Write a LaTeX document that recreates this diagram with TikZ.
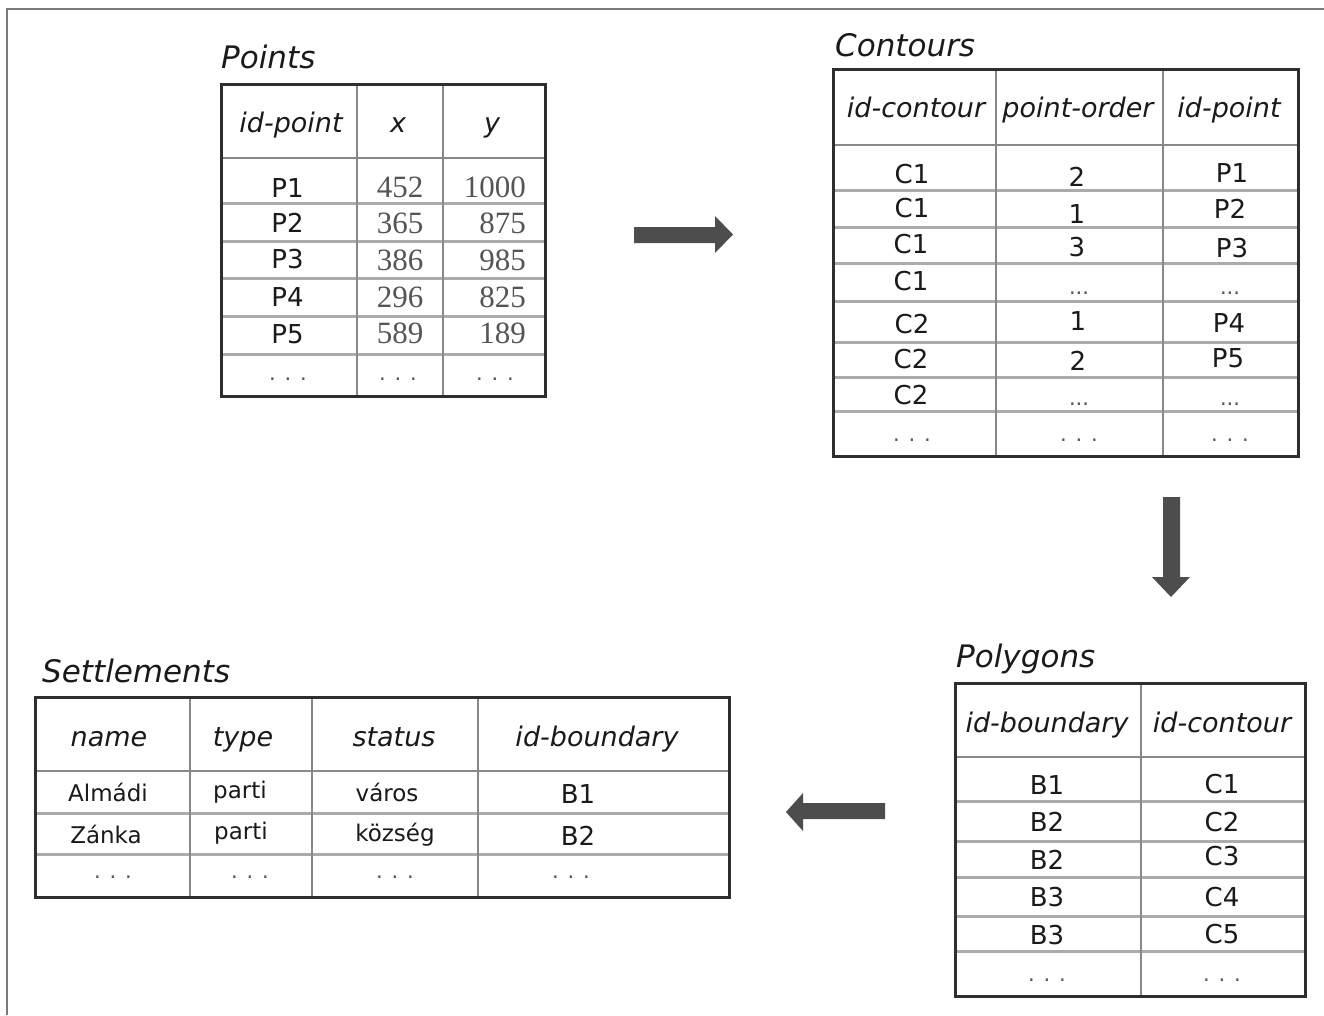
\documentclass[tikz,border=0pt]{standalone}
\usepackage{fontspec}
\newfontfamily\dvs{DejaVu Sans}
\newfontfamily\tms{Liberation Serif}
\definecolor{framecol}{HTML}{2E2E2E}
\definecolor{rowcol}{HTML}{ABABAB}
\definecolor{colcol}{HTML}{888888}
\definecolor{txt}{HTML}{1A1A1A}
\definecolor{numcol}{HTML}{555555}
\definecolor{arrcol}{HTML}{4D4D4D}
\definecolor{outercol}{HTML}{7A7A7A}
\tikzset{
  tabframe/.style={draw=framecol, line width=3pt},
  rowline/.style={draw=rowcol, line width=3pt},
  colline/.style={draw=colcol, line width=2pt},
  hdrline/.style={draw=colcol, line width=2.2pt},
  ttl/.style={anchor=base west, inner sep=0pt, font=\dvs\itshape\fontsize{31}{31}\selectfont, text=txt},
  hdr/.style={anchor=base, inner sep=0pt, font=\dvs\itshape\fontsize{27}{27}\selectfont, text=txt},
  cell/.style={anchor=base, inner sep=0pt, font=\dvs\fontsize{26}{26}\selectfont, text=txt},
  scell/.style={anchor=base, inner sep=0pt, font=\dvs\fontsize{23}{24}\selectfont, text=txt},
  num/.style={anchor=base, inner sep=0pt, font=\tms\fontsize{31}{31}\selectfont, text=numcol},
  numr/.style={anchor=base east, inner sep=0pt, font=\tms\fontsize{31}{31}\selectfont, text=numcol},
  dotsc/.style={anchor=center, inner sep=0pt, font=\dvs\fontsize{21}{21}\selectfont, text=txt!75},
  tdots/.style={anchor=base, inner sep=0pt, font=\dvs\fontsize{21}{21}\selectfont, text=txt!75},
  bigarrow/.style={fill=arrcol},
  outer/.style={draw=outercol, line width=2pt}
}
\begin{document}
\begin{tikzpicture}[x=1pt, y=-1pt]
\useasboundingbox (0,0) rectangle (1324,1015);
\fill[white] (0,0) rectangle (1324,1015);
% outer frame (top and left only)
\draw[outer] (1324,9) -- (7,9) -- (7,1015);

% ================= Points =================
\node[ttl] (tP) at (221,68) {Points};
\foreach \y in {203,241,278,316,354} \draw[rowline] (221,\y) -- (545,\y);
\draw[hdrline] (221,158) -- (545,158);
\foreach \x in {357,443} \draw[colline] (\x,84) -- (\x,396);
\draw[tabframe] (221,84) rectangle (545,396);
\node[hdr] (pH1) at (291,132) {id-point};
\node[hdr] (pH2) at (398,132) {x};
\node[hdr] (pH3) at (492,132) {y};
\node[cell] (pA1) at (287.5,197) {P1};
\node[cell] (pA2) at (287.5,232) {P2};
\node[cell] (pA3) at (287.5,268) {P3};
\node[cell] (pA4) at (287.5,306) {P4};
\node[cell] (pA5) at (287.5,343) {P5};
\node[num] (pB1) at (400,197) {452};
\node[num] (pB2) at (400,233) {365};
\node[num] (pB3) at (400,270) {386};
\node[num] (pB4) at (400,307) {296};
\node[num] (pB5) at (400,343) {589};
\node[numr] (pC1) at (526,197) {1000};
\node[numr] (pC2) at (526,233) {875};
\node[numr] (pC3) at (526,270) {985};
\node[numr] (pC4) at (526,307) {825};
\node[numr] (pC5) at (526,343) {189};
\node[dotsc] (pD1) at (288,379) {. . .};
\node[dotsc] (pD2) at (398,379) {. . .};
\node[dotsc] (pD3) at (495,379) {. . .};

% ================= Contours =================
\node[ttl] (tC) at (835,56) {Contours};
\foreach \y in {190,227,263,301,342,377,411} \draw[rowline] (833,\y) -- (1298,\y);
\draw[hdrline] (833,145) -- (1298,145);
\foreach \x in {996,1163} \draw[colline] (\x,69) -- (\x,456);
\draw[tabframe] (833,69) rectangle (1298,456);
\node[hdr] (cH1) at (916,117) {id-contour};
\node[hdr] (cH2) at (1078,117) {point-order};
\node[hdr] (cH3) at (1229,117) {id-point};
\node[cell] (cA1) at (912,183) {C1};
\node[cell] (cA2) at (912,217) {C1};
\node[cell] (cA3) at (911,253) {C1};
\node[cell] (cA4) at (911,290) {C1};
\node[cell] (cA5) at (912,333) {C2};
\node[cell] (cA6) at (911,368) {C2};
\node[cell] (cA7) at (911,404) {C2};
\node[cell] (cB1) at (1077,186) {2};
\node[cell] (cB2) at (1077,223) {1};
\node[cell] (cB3) at (1077,256) {3};
\node[tdots] (cB4) at (1079,294) {...};
\node[cell] (cB5) at (1078,330) {1};
\node[cell] (cB6) at (1078,370) {2};
\node[tdots] (cB7) at (1079,405) {...};
\node[cell] (cC1) at (1232,182) {P1};
\node[cell] (cC2) at (1230,218) {P2};
\node[cell] (cC3) at (1232,257) {P3};
\node[tdots] (cC4) at (1230,294) {...};
\node[cell] (cC5) at (1229,332) {P4};
\node[cell] (cC6) at (1228,367) {P5};
\node[tdots] (cC7) at (1230,405) {...};
\node[dotsc] (cD1) at (912,440) {. . .};
\node[dotsc] (cD2) at (1079,440) {. . .};
\node[dotsc] (cD3) at (1230,440) {. . .};

% ================= Polygons =================
\node[ttl] (tPo) at (956,667) {Polygons};
\foreach \y in {801,841,877,916,951} \draw[rowline] (955,\y) -- (1305,\y);
\draw[hdrline] (955,757) -- (1305,757);
\draw[colline] (1141,683) -- (1141,996);
\draw[tabframe] (955,683) rectangle (1305,996);
\node[hdr] (gH1) at (1047,732) {id-boundary};
\node[hdr] (gH2) at (1222,732) {id-contour};
\node[cell] (gA1) at (1047,794) {B1};
\node[cell] (gA2) at (1047,831) {B2};
\node[cell] (gA3) at (1047,869) {B2};
\node[cell] (gA4) at (1047,906) {B3};
\node[cell] (gA5) at (1047,944) {B3};
\node[cell] (gB1) at (1222,793) {C1};
\node[cell] (gB2) at (1222,831) {C2};
\node[cell] (gB3) at (1222,865) {C3};
\node[cell] (gB4) at (1222,906) {C4};
\node[cell] (gB5) at (1222,943) {C5};
\node[dotsc] (gD1) at (1047,980) {. . .};
\node[dotsc] (gD2) at (1222,980) {. . .};

% ================= Settlements =================
\node[ttl] (tS) at (42,682) {Settlements};
\foreach \y in {813,854} \draw[rowline] (35,\y) -- (729,\y);
\draw[hdrline] (35,771) -- (729,771);
\foreach \x in {190,312,478} \draw[colline] (\x,697) -- (\x,897);
\draw[tabframe] (35,697) rectangle (729,897);
\node[hdr] (sH1) at (109,746) {name};
\node[hdr] (sH2) at (243,746) {type};
\node[hdr] (sH3) at (394,746) {status};
\node[hdr] (sH4) at (597,746) {id-boundary};
\node[scell] (sA1) at (108,801) {Almádi};
\node[scell] (sB1) at (240,798) {parti};
\node[scell] (sC1) at (387,801) {város};
\node[cell] (sD1) at (578,803) {B1};
\node[scell] (sA2) at (106,843) {Zánka};
\node[scell] (sB2) at (241,839) {parti};
\node[scell] (sC2) at (395,841) {község};
\node[cell] (sD2) at (578,845) {B2};
\node[dotsc] (sE1) at (113,877) {. . .};
\node[dotsc] (sE2) at (250,877) {. . .};
\node[dotsc] (sE3) at (395,877) {. . .};
\node[dotsc] (sE4) at (571,877) {. . .};

% ================= Block arrows =================
\fill[bigarrow] (634,227) -- (715,227) -- (715,216) -- (733,234.5) -- (715,253) -- (715,243) -- (634,243) -- cycle;
\fill[bigarrow] (1163,497) -- (1180,497) -- (1180,577) -- (1190,577) -- (1171,597) -- (1152,577) -- (1163,577) -- cycle;
\fill[bigarrow] (885,803) -- (803,803) -- (803,793) -- (786,812) -- (803,831) -- (803,819) -- (885,819) -- cycle;
\end{tikzpicture}
\end{document}
